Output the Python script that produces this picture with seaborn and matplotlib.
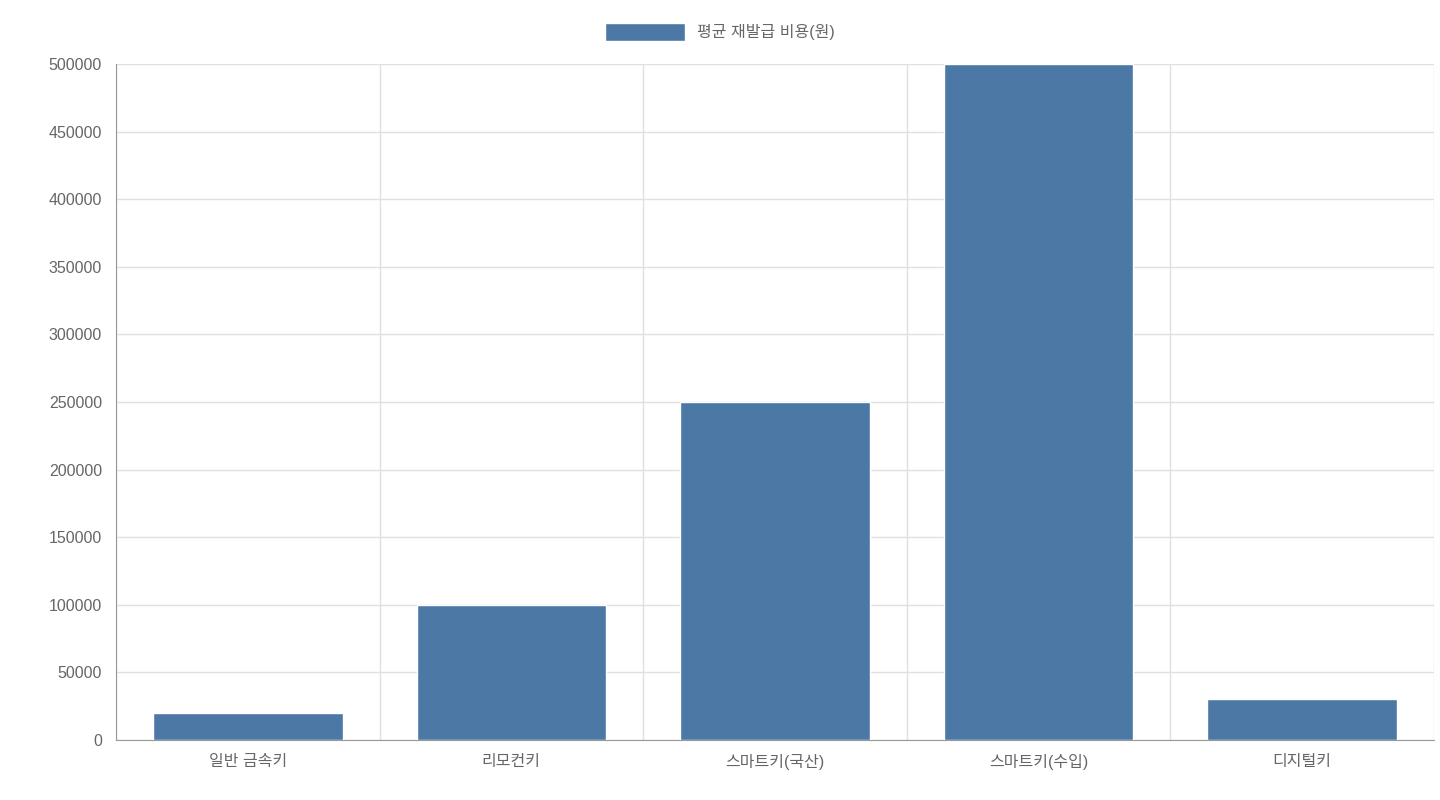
import matplotlib
matplotlib.use("Agg")
import matplotlib.pyplot as plt
import seaborn as sns
import pandas as pd
import numpy as np

categories = ["일반 금속키", "리모컨키", "스마트키(국산)", "스마트키(수입)", "디지털키"]
costs = [20000, 100000, 250000, 500000, 30000]
series_name = "평균 재발급 비용(원)"
y_ticks = list(range(0, 500001, 50000))

sns.set_style("white")
plt.rcParams["font.family"] = ["Liberation Sans", "Noto Sans CJK KR", "DejaVu Sans"]

df = pd.DataFrame({"category": categories, "cost": costs})

fig = plt.figure(figsize=(14.4, 8), dpi=100)
ax = fig.add_axes([116 / 1440, 1 - 740 / 800, (1434 - 116) / 1440, (740 - 64) / 800])

sns.barplot(data=df, x="category", y="cost", color="#4c78a6", saturation=1,
            width=0.72, ax=ax, label=series_name, zorder=3)

ax.set_xlim(-0.5, len(categories) - 0.5)
ax.set_ylim(0, 500000)
ax.set_yticks(y_ticks)
ax.set_yticklabels([str(v) for v in y_ticks])
ax.set_xlabel("")
ax.set_ylabel("")

ax.set_xticks(np.arange(-0.5, len(categories)), minor=True)
ax.tick_params(axis="x", which="major", length=0, pad=10, labelsize=11.5, labelcolor="#666666")
ax.tick_params(axis="x", which="minor", length=14, color="#cccccc", direction="out")
ax.tick_params(axis="y", length=6, color="#cccccc", labelsize=11.5, labelcolor="#666666", pad=4)

ax.grid(True, axis="y", color="#e0e0e0", linewidth=1, zorder=0)
ax.grid(True, axis="x", which="minor", color="#e0e0e0", linewidth=1, zorder=0)
ax.grid(False, axis="x", which="major")

for side in ["top", "right"]:
    ax.spines[side].set_visible(False)
ax.spines["left"].set_color("#999999")
ax.spines["bottom"].set_color("#999999")

ax.legend_.remove() if ax.legend_ else None
handles, labels = ax.get_legend_handles_labels()
fig.legend(handles[:1], labels[:1], loc="center", bbox_to_anchor=(0.5, 1 - 32 / 800),
           frameon=False, fontsize=11.5, handlelength=5, handleheight=1.45,
           labelcolor="#666666")

fig.savefig("out.png", dpi=100)
